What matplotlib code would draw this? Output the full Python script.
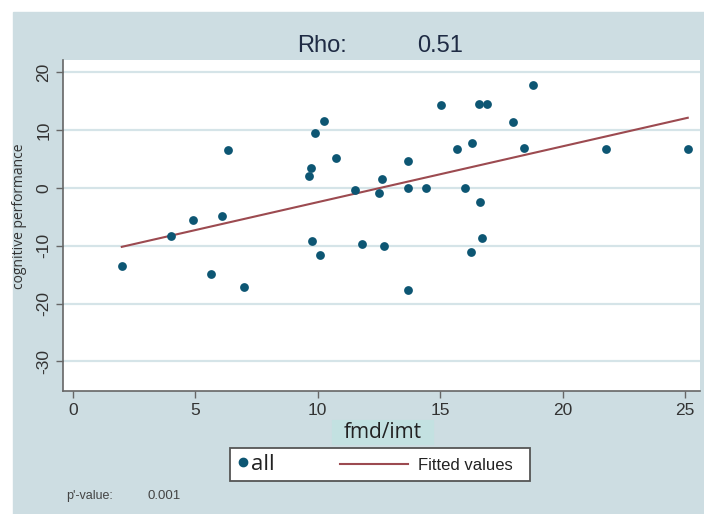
import matplotlib.pyplot as plt
import numpy as np
from matplotlib.patches import Rectangle
from matplotlib.lines import Line2D

plt.rcParams['axes.unicode_minus'] = False

# values
fmd_imt = [2.0, 4.0, 4.9, 5.65, 6.1, 6.33, 7.0, 9.65, 9.74, 9.77, 9.9, 10.1,
           10.26, 10.73, 11.5, 11.8, 12.5, 12.6, 12.7, 13.7, 13.7, 13.67, 14.4,
           15.04, 15.7, 16.0, 16.25, 16.3, 16.56, 16.6, 16.7, 16.9, 17.95, 18.4,
           18.8, 21.75, 25.1]
cognitive = [-13.5, -8.4, -5.5, -14.9, -4.8, 6.5, -17.1, 2.0, 3.5, -9.2, 9.4,
             -11.6, 11.6, 5.2, -0.3, -9.7, -0.8, 1.5, -10.0, 4.7, 0.0, -17.7,
             0.0, 14.3, 6.7, 0.0, -11.1, 7.8, 14.5, -2.4, -8.6, 14.5, 11.4, 6.9,
             17.8, 6.7, 6.7]
xticks = [0, 5, 10, 15, 20, 25]
yticks = [-30, -20, -10, 0, 10, 20]
rho = "0.51"
pval = "0.001"

bg = "#cddde2"
dot = "#0d5673"
fitc = "#9c4a50"

W, H = 704, 514
fig = plt.figure(figsize=(W / 100, H / 100), dpi=100)
fig.patch.set_facecolor("white")
fig.add_artist(Rectangle((13 / W, 0), 1 - 13 / W, 1 - 12 / H,
                         transform=fig.transFigure, color=bg, zorder=0))

ax = fig.add_axes([63 / W, 1 - 391 / H, (700 - 63) / W, (391 - 60) / H])
ax.set_facecolor("white")

x = np.array(fmd_imt)
y = np.array(cognitive)
b, a = np.polyfit(x, y, 1)
xs = np.array([x.min(), x.max()])

ax.scatter(x, y, s=40, color=dot, zorder=3, linewidths=0)
ax.plot(xs, a + b * xs, color=fitc, lw=1.5, zorder=2)

ax.set_xlim(-0.4, 25.6)
ax.set_ylim(-35.1, 22.1)
ax.set_xticks(xticks)
ax.set_yticks(yticks)
ax.yaxis.grid(True, color="#d5e4e8", lw=1.6)
ax.set_axisbelow(True)
for s in ["top", "right"]:
    ax.spines[s].set_visible(False)
for s in ["left", "bottom"]:
    ax.spines[s].set_color("#666666")
    ax.spines[s].set_linewidth(1.2)
ax.tick_params(length=5, color="#666666", labelcolor="#333333",
               labelsize=12.5, width=1)
for t in ax.get_xticklabels() + ax.get_yticklabels():
    t.set_fontfamily("Liberation Sans")
for t in ax.get_yticklabels():
    t.set_rotation(90)
    t.set_va("center")

# title
fig.text(322 / W, 1 - 52 / H, "Rho:", ha="center", va="baseline",
         fontsize=17, family="Liberation Sans", color="#1f2b44")
fig.text(440 / W, 1 - 52 / H, rho, ha="center", va="baseline",
         fontsize=17, family="Liberation Sans", color="#1f2b44")

# y label
fig.text(20 / W, 1 - 216 / H, "cognitive performance", rotation=90,
         ha="center", va="center", fontsize=10, family="Open Sans",
         color="#333333")

# x label with highlight
fig.add_artist(Rectangle((332 / W, 1 - 444 / H), 101 / W, 24 / H,
                         transform=fig.transFigure, color="#c3e1e1", zorder=1))
fig.text(383 / W, 1 - 432 / H, "fmd/imt", ha="center", va="center",
         fontsize=15, family="Open Sans", color="#222222", zorder=2)

# legend
fig.add_artist(Rectangle((230 / W, 1 - 481 / H), 300 / W, 33 / H,
                         transform=fig.transFigure, facecolor="white",
                         edgecolor="#555555", lw=1.3, zorder=1))
fig.add_artist(Line2D([243 / W], [1 - 462 / H], marker="o", markersize=6,
                      color=dot, lw=0, transform=fig.transFigure, zorder=2))
fig.text(251 / W, 1 - 465 / H, "all", ha="left", va="center", fontsize=16,
         family="Open Sans", color="#222222", zorder=2)
fig.add_artist(Line2D([340 / W, 408 / W], [1 - 464 / H, 1 - 464 / H],
                      color=fitc, lw=1.5, transform=fig.transFigure, zorder=2))
fig.text(418 / W, 1 - 465 / H, "Fitted values", ha="left", va="center",
         fontsize=12, family="Liberation Sans", color="#222222", zorder=2)

# p-value
fig.text(66 / W, 1 - 496 / H, "p'-value:", ha="left", va="center",
         fontsize=9, family="Liberation Sans", color="#444444")
fig.text(147 / W, 1 - 496 / H, pval, ha="left", va="center",
         fontsize=9.5, family="Liberation Sans", color="#444444")

fig.savefig("out.png", dpi=100)
